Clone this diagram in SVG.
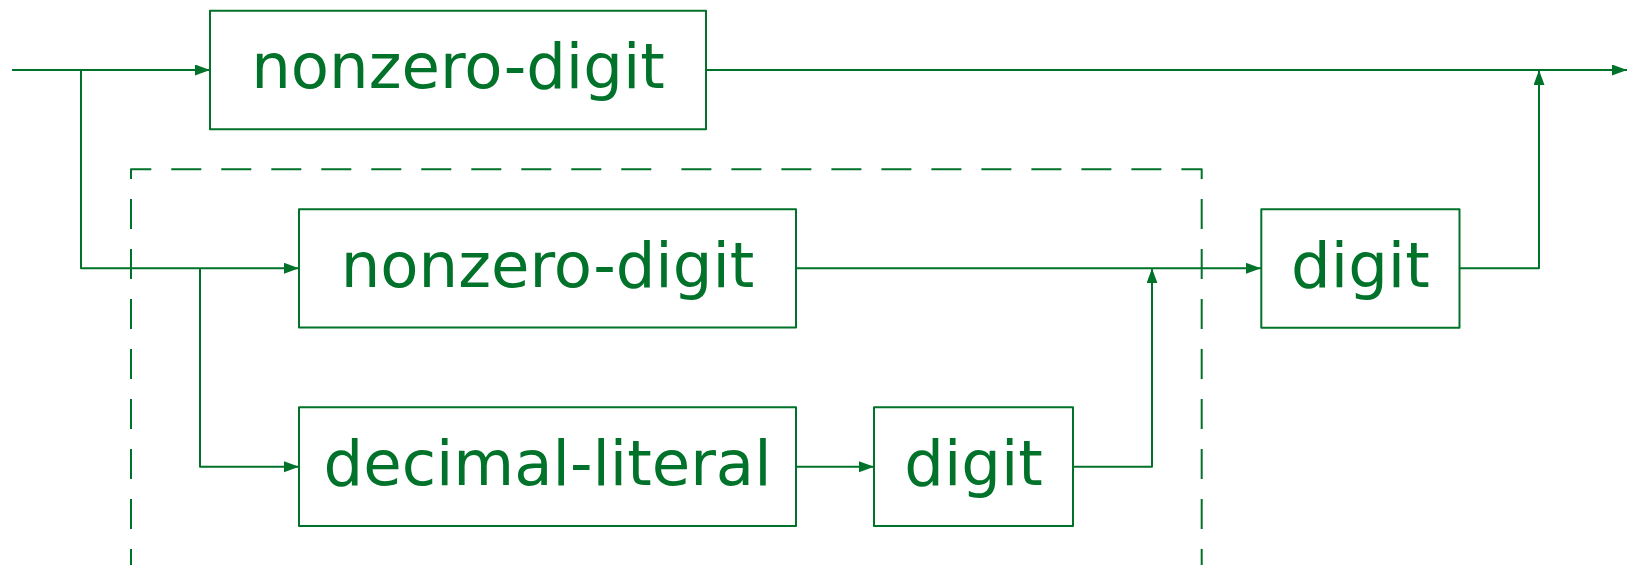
<svg xmlns="http://www.w3.org/2000/svg" width="1627" height="565" viewBox="0 0 1627 565">
  <style>
    .box { fill: none; stroke: #007229; stroke-width: 2; stroke-linejoin: round; }
    .lbl { font-family: "DejaVu Sans", sans-serif; font-size: 62.5px; fill: #007229; text-anchor: middle; }
    .wire { fill: none; stroke: #007229; stroke-width: 2; stroke-linejoin: round; }
    .arr { marker-end: url(#head); }
    .group { fill: none; stroke: #007229; stroke-width: 2; stroke-dasharray: 30 20; stroke-dashoffset: 29; stroke-linejoin: round; }
  </style>
  <defs>
    <marker id="head" markerUnits="userSpaceOnUse" markerWidth="16" markerHeight="12" refX="15" refY="5.5" orient="auto">
      <path d="M0,0 L15,5.5 L0,11 Z" fill="#007229"/>
    </marker>
  </defs>

  <!-- optional group frame (dashed) -->
  <g id="frame">
    <path class="group" d="M131,600 V169.3 H666"/>
    <path class="group" d="M1201.7,600 V169.3 H666"/>
  </g>

  <g id="connectors">
    <path class="wire arr" d="M12,70 H210"/>
    <path class="wire arr" d="M706,70 H1627"/>
    <path class="wire arr" d="M81,70 V268.3 H299"/>
    <path class="wire arr" d="M200,268.3 V466.7 H299"/>
    <path class="wire arr" d="M796,466.7 H874"/>
    <path class="wire arr" d="M1073,466.7 H1152 V268.3"/>
    <path class="wire arr" d="M796,268.3 H1261"/>
    <path class="wire arr" d="M1459.5,268.3 H1539 V70"/>
  </g>

  <g id="nonzero-digit-1">
    <rect class="box" x="210" y="10.7" width="496" height="118.6"/>
    <text class="lbl" x="458" y="88.3">nonzero-digit</text>
  </g>
  <g id="nonzero-digit-2">
    <rect class="box" x="299" y="209.2" width="497" height="118.4"/>
    <text class="lbl" x="547.5" y="286.5">nonzero-digit</text>
  </g>
  <g id="decimal-literal">
    <rect class="box" x="299" y="407.3" width="497" height="118.7"/>
    <text class="lbl" x="547.5" y="484.5">decimal-literal</text>
  </g>
  <g id="digit-1">
    <rect class="box" x="874" y="407.3" width="199" height="118.7"/>
    <text class="lbl" x="973.5" y="484.5">digit</text>
  </g>
  <g id="digit-2">
    <rect class="box" x="1261.3" y="209.2" width="198.2" height="118.5"/>
    <text class="lbl" x="1360.4" y="286.5">digit</text>
  </g>
</svg>
